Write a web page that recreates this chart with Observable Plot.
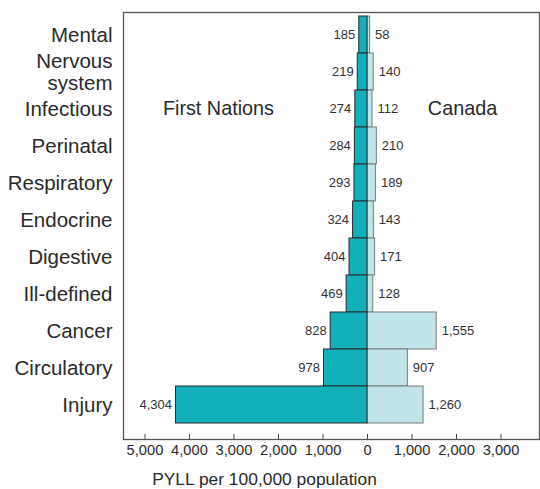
<!DOCTYPE html>
<html>
<head>
<meta charset="utf-8">
<script src="https://cdn.jsdelivr.net/npm/d3@7"></script>
<script src="https://cdn.jsdelivr.net/npm/@observablehq/plot@0.6"></script>
<style>
  body { margin: 0; background: #fff; }
  svg { font-family: "Liberation Sans", Arial, sans-serif; }
</style>
</head>
<body>
<div id="chart"></div>
<script>
const categories = ["Mental", "Nervous\nsystem", "Infectious", "Perinatal", "Respiratory", "Endocrine", "Digestive", "Ill-defined", "Cancer", "Circulatory", "Injury"];
const firstNations = [185, 219, 274, 284, 293, 324, 404, 469, 828, 978, 4304];
const canada = [58, 140, 112, 210, 189, 143, 171, 128, 1555, 907, 1260];
const xTicks = [-5000, -4000, -3000, -2000, -1000, 0, 1000, 2000, 3000];
const groupLabels = [
  {text: "First Nations", x: -3350, cat: "Infectious"},
  {text: "Canada", x: 2135, cat: "Infectious"}
];
const axisTitle = "PYLL per 100,000 population";

const fn = categories.map((c, i) => ({cat: c, v: firstNations[i]}));
const ca = categories.map((c, i) => ({cat: c, v: canada[i]}));
const fmt = d3.format(",");

const chart = Plot.plot({
  width: 540,
  height: 489,
  marginLeft: 123,
  marginRight: 1,
  marginTop: 12,
  marginBottom: 50,
  x: {domain: [-5483, 3865], label: null},
  y: {domain: categories, range: [13, 426], padding: 0, label: null},
  style: {fontFamily: "Liberation Sans, Arial, sans-serif", color: "#222", background: "#fff"},
  marks: [
    Plot.barX(ca, {y: "cat", x1: 0, x2: "v", fill: "#c0e4e9", stroke: "#7a7a7a", strokeWidth: 1}),
    Plot.barX(fn, {y: "cat", x1: d => -d.v, x2: 0, fill: "#12b0ba", stroke: "#2a2a2a", strokeWidth: 1}),
    Plot.text(fn, {y: "cat", x: d => -d.v, text: d => fmt(d.v), textAnchor: "end", dx: -4, fontSize: 13, fill: "#333"}),
    Plot.text(ca, {y: "cat", x: "v", text: d => fmt(d.v), textAnchor: "start", dx: 5, fontSize: 13, fill: "#333"}),
    Plot.text(groupLabels, {x: "x", y: "cat", text: "text", fontSize: 19.8, fill: "#2a2a2a"}),
    Plot.axisY({tickSize: 0, tickPadding: 11, fontSize: 20.5, fill: "#2a2a2a", label: null, lineHeight: 1.06}),
    Plot.ruleX(xTicks, {stroke: "#444", insetTop: 422}),
    Plot.axisX({ticks: xTicks, tickSize: 0, tickPadding: 5, tickFormat: d => fmt(Math.abs(d)), fontSize: 14.7, fill: "#2a2a2a", label: null}),
    Plot.text([axisTitle], {frameAnchor: "bottom", text: d => d, dx: -67, dy: 45, fontSize: 17.4, fill: "#2a2a2a"}),
    Plot.frame({stroke: "#555", strokeWidth: 1.3})
  ]
});
document.getElementById("chart").appendChild(chart);
</script>
</body>
</html>
